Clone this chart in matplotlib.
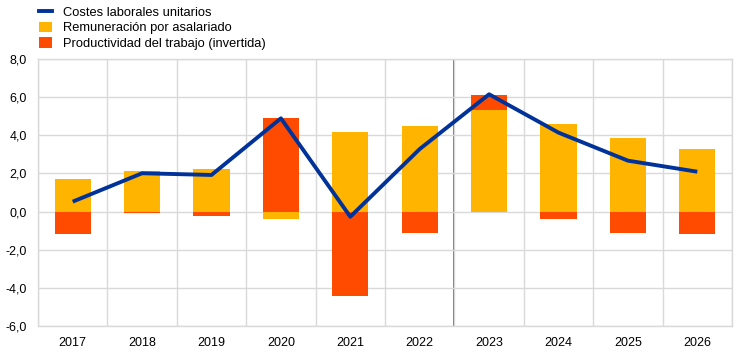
import matplotlib
matplotlib.use("Agg")
import matplotlib.pyplot as plt
import numpy as np
from matplotlib.patches import Patch
from matplotlib.lines import Line2D
from matplotlib.ticker import FuncFormatter

plt.rcParams['font.family'] = ['Liberation Sans', 'DejaVu Sans']

years = ["2017", "2018", "2019", "2020", "2021", "2022", "2023", "2024", "2025", "2026"]
ulc = [0.52, 2.01, 1.92, 4.89, -0.27, 3.28, 6.15, 4.14, 2.67, 2.09]
remuneration = [1.71, 2.13, 2.22, -0.40, 4.17, 4.49, 5.33, 4.58, 3.84, 3.27]
productivity = [-1.19, -0.05, -0.21, 4.91, -4.41, -1.12, 0.80, -0.40, -1.14, -1.19]
yticks = [-6, -4, -2, 0, 2, 4, 6, 8]

BLUE = "#003299"
YELLOW = "#FFB400"
ORANGE = "#FF4B00"
GRID = "#d9d9d9"

fig = plt.figure(figsize=(7.44, 3.54), dpi=100)
ax = fig.add_axes([38/744, 1-326/354, (732-38)/744, (326-59)/354])

x = np.arange(len(years))
rem = np.array(remuneration)
prod = np.array(productivity)

# stack positives and negatives separately
rem_bottom = np.zeros(len(x))
prod_bottom = np.where((prod >= 0) == (rem >= 0), rem, 0.0)

w = 0.52
ax.bar(x, rem, width=w, bottom=rem_bottom, color=YELLOW, zorder=2)
ax.bar(x, prod, width=w, bottom=prod_bottom, color=ORANGE, zorder=2)
ax.plot(x, ulc, color=BLUE, linewidth=2.8, zorder=3, solid_capstyle='butt')

ax.set_xlim(-0.5, len(years) - 0.5)
ax.set_ylim(-6, 8)
ax.set_yticks(yticks)
ax.yaxis.set_major_formatter(FuncFormatter(lambda v, p: f"{v:.1f}".replace(".", ",")))
ax.set_xticks(x)
ax.set_xticklabels(years)
ax.set_xticks(np.arange(-0.5, len(years), 1.0), minor=True)

ax.grid(axis='y', which='major', color=GRID, linewidth=1.0, zorder=0)
ax.grid(axis='x', which='minor', color=GRID, linewidth=1.0, zorder=0)
ax.grid(axis='x', which='major', visible=False)
ax.tick_params(axis='both', which='both', length=0, labelsize=9, colors='#000000')
ax.tick_params(axis='x', pad=8)
ax.tick_params(axis='y', pad=8)
for s in ax.spines.values():
    s.set_color(GRID)
    s.set_linewidth(1.0)

ax.axvline(5.5, color='#595959', linewidth=1.2, zorder=1)

handles = [
    Line2D([0], [0], color=BLUE, linewidth=2.8),
    Patch(facecolor=YELLOW, edgecolor='none'),
    Patch(facecolor=ORANGE, edgecolor='none'),
]
labels = ["Costes laborales unitarios", "Remuneración por asalariado", "Productividad del trabajo (invertida)"]
fig.legend(handles, labels, loc='upper left', bbox_to_anchor=(0.042, 1.005), frameon=False,
           fontsize=9.3, handlelength=1.0, handleheight=0.9, handletextpad=0.85,
           labelspacing=0.22, borderaxespad=0.2)

fig.savefig("out.png", dpi=100)
